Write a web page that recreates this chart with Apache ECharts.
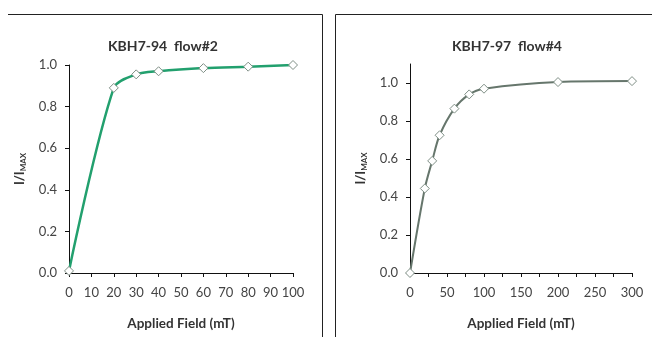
<!DOCTYPE html>
<html>
<head>
<meta charset="utf-8">
<script src="https://cdn.jsdelivr.net/npm/echarts@6/dist/echarts.min.js"></script>
<style>
  html, body { margin: 0; padding: 0; background: #fff; }
  #chart { width: 652px; height: 337px; }
</style>
</head>
<body>
<div id="chart"></div>
<script>
// panel titles
const titles = ["KBH7-94  flow#2", "KBH7-97  flow#4"];

// left panel: applied field (mT) vs I/Imax
const fieldA = [0, 20, 30, 40, 60, 80, 100];
const ratioA = [0.01, 0.89, 0.955, 0.97, 0.985, 0.992, 1.0];

// right panel
const fieldB = [0, 20, 30, 40, 60, 80, 100, 200, 300];
const ratioB = [0.0, 0.445, 0.59, 0.725, 0.865, 0.94, 0.97, 1.005, 1.01];

const font = "Lato, 'Open Sans', sans-serif";
const textColor = "#333";

const axisCommon = {
  axisLine: { show: true, lineStyle: { color: "#111", width: 1 } },
  axisTick: { show: true, inside: false, length: 4, lineStyle: { color: "#111" } },
  splitLine: { show: false },
  axisLabel: { color: "#444", fontSize: 13, fontFamily: font }
};

function xAxisFor(gridIndex, max, interval, labelStep) {
  return Object.assign({}, axisCommon, {
    type: "value",
    gridIndex,
    min: 0,
    max,
    interval,
    name: "Applied Field (mT)",
    nameLocation: "middle",
    nameGap: 44,
    nameTextStyle: { color: textColor, fontSize: 13.5, fontWeight: "bold", fontFamily: font },
    axisLabel: Object.assign({}, axisCommon.axisLabel, {
      margin: 13,
      formatter: v => (v % labelStep === 0 ? String(v) : "")
    })
  });
}

function yAxisFor(gridIndex, max) {
  return Object.assign({}, axisCommon, {
    type: "value",
    gridIndex,
    min: 0,
    max,
    interval: 0.2,
    name: "I/I{sub|MAX}",
    nameLocation: "middle",
    nameRotate: 90,
    nameGap: 42,
    nameTextStyle: {
      color: textColor, fontSize: 13, fontWeight: "bold", fontFamily: font,
      rich: { sub: { fontSize: 8, fontWeight: "bold", color: textColor, fontFamily: font, verticalAlign: "bottom", padding: [6, 0, 0, 0] } }
    },
    axisTick: Object.assign({}, axisCommon.axisTick, { customValues: [0, 0.2, 0.4, 0.6, 0.8, 1.0] }),
    axisLabel: Object.assign({}, axisCommon.axisLabel, {
      margin: 12,
      formatter: v => (v > 1.001 ? "" : v.toFixed(1))
    })
  });
}

function seriesFor(idx, xs, ys, color, width) {
  return {
    type: "line",
    xAxisIndex: idx,
    yAxisIndex: idx,
    data: xs.map((x, i) => [x, ys[i]]),
    smooth: 0.3,
    symbol: "diamond",
    symbolSize: 9,
    lineStyle: { color, width },
    itemStyle: { color: "#fff", borderColor: "#7f8f86", borderWidth: 1 },
    z: 3
  };
}

const chart = echarts.init(document.getElementById("chart"));
chart.setOption({
  backgroundColor: "#fff",
  animation: false,
  title: [
    { text: titles[0], left: 158, top: 34, textAlign: "center",
      textStyle: { fontSize: 14, fontWeight: "bold", color: textColor, fontFamily: font } },
    { text: titles[1], left: 502, top: 34, textAlign: "center",
      textStyle: { fontSize: 14, fontWeight: "bold", color: textColor, fontFamily: font } }
  ],
  grid: [
    { left: 69, top: 65, width: 224, height: 208 },
    { left: 410, top: 64, width: 222, height: 209 }
  ],
  xAxis: [xAxisFor(0, 100, 10, 10), xAxisFor(1, 300, 25, 50)],
  yAxis: [yAxisFor(0, 1.0), yAxisFor(1, 1.1)],
  series: [
    seriesFor(0, fieldA, ratioA, "#22a06e", 2.5),
    seriesFor(1, fieldB, ratioB, "#66766c", 2)
  ],
  graphic: [
    { type: "polyline", shape: { points: [[8, 14.5], [322.5, 14.5], [322.5, 337]] },
      style: { stroke: "#222", lineWidth: 1, fill: null } },
    { type: "polyline", shape: { points: [[335.5, 337], [335.5, 14.5], [652, 14.5]] },
      style: { stroke: "#222", lineWidth: 1, fill: null } }
  ]
});
</script>
</body>
</html>
